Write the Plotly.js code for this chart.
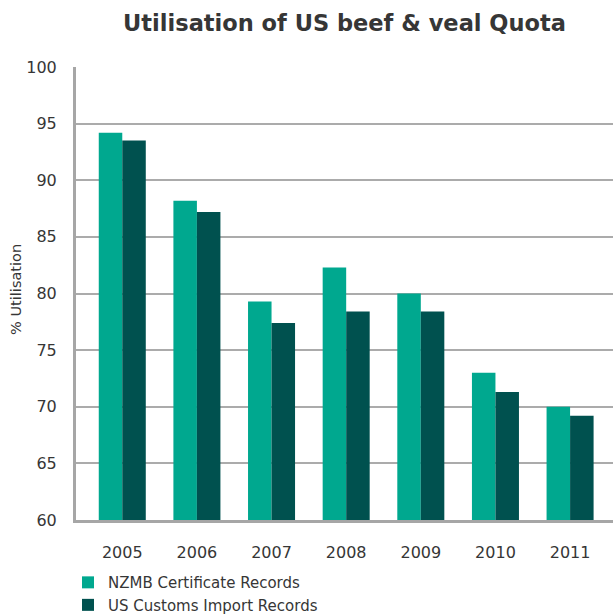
<!DOCTYPE html>
<html><head><meta charset="utf-8">
<script src="https://cdn.plot.ly/plotly-3.0.1.min.js"></script>
<style>html,body{margin:0;padding:0;background:#fff}#c{width:613px;height:614px}</style>
</head><body><div id="c"></div>
<script>
var years = ['2005','2006','2007','2008','2009','2010','2011'];
var nzmb = [94.2, 88.2, 79.3, 82.3, 80.0, 73.0, 70.0];
var usCustoms = [93.5, 87.2, 77.4, 78.4, 78.4, 71.3, 69.2];
var seriesNames = ['NZMB Certificate Records', 'US Customs Import Records'];
var yTicks = [60, 65, 70, 75, 80, 85, 90, 95, 100];
var yTitle = '% Utilisation';

var font = 'DejaVu Sans, sans-serif';
var txt = '#363636';
var data = [
  {type:'bar', x:years, y:nzmb, name:seriesNames[0], marker:{color:'#00a88f'}},
  {type:'bar', x:years, y:usCustoms, name:seriesNames[1], marker:{color:'#00514f'}}
];
var layout = {
  width:613, height:614,
  margin:{l:76, r:0, t:67, b:94, autoexpand:false},
  paper_bgcolor:'#fff', plot_bgcolor:'#fff',
  font:{family:font, color:txt, size:15},
  title:{text:'<b>Utilisation of US beef & veal Quota</b>', font:{family:font, size:22.5, color:txt}, x:0.5, xref:'paper', y:0.963, yref:'container', yanchor:'middle'},
  barmode:'group', bargap:0.37, bargroupgap:0,
  showlegend:true,
  legend:{orientation:'v', xref:'container', yref:'container', x:68/613, y:0.078, xanchor:'left', yanchor:'top', font:{family:font, size:15, color:txt}, tracegroupgap:0, itemclick:false},
  xaxis:{type:'category', range:[-0.62, 6.575], showgrid:false, showline:true, linecolor:'#a6a6a6', linewidth:3, automargin:false,
    ticks:'outside', ticklen:16, tickcolor:'rgba(0,0,0,0)', tickfont:{family:font, size:16, color:txt}, fixedrange:true},
  yaxis:{range:[60,100], tickvals:yTicks, showgrid:true, gridcolor:'#ababab', gridwidth:2, zeroline:false, automargin:false,
    showline:true, linecolor:'#a6a6a6', linewidth:3,
    ticks:'outside', ticklen:13, tickcolor:'rgba(0,0,0,0)', tickfont:{family:font, size:16, color:txt}},
  annotations:[{text:yTitle, xref:'paper', yref:'paper', x:(16-76)/537, y:0.508, xanchor:'center', yanchor:'middle', textangle:-90, showarrow:false, font:{family:font, size:14.5, color:txt}}]
};
Plotly.newPlot('c', data, layout, {displayModeBar:false, staticPlot:true});
</script></body></html>
